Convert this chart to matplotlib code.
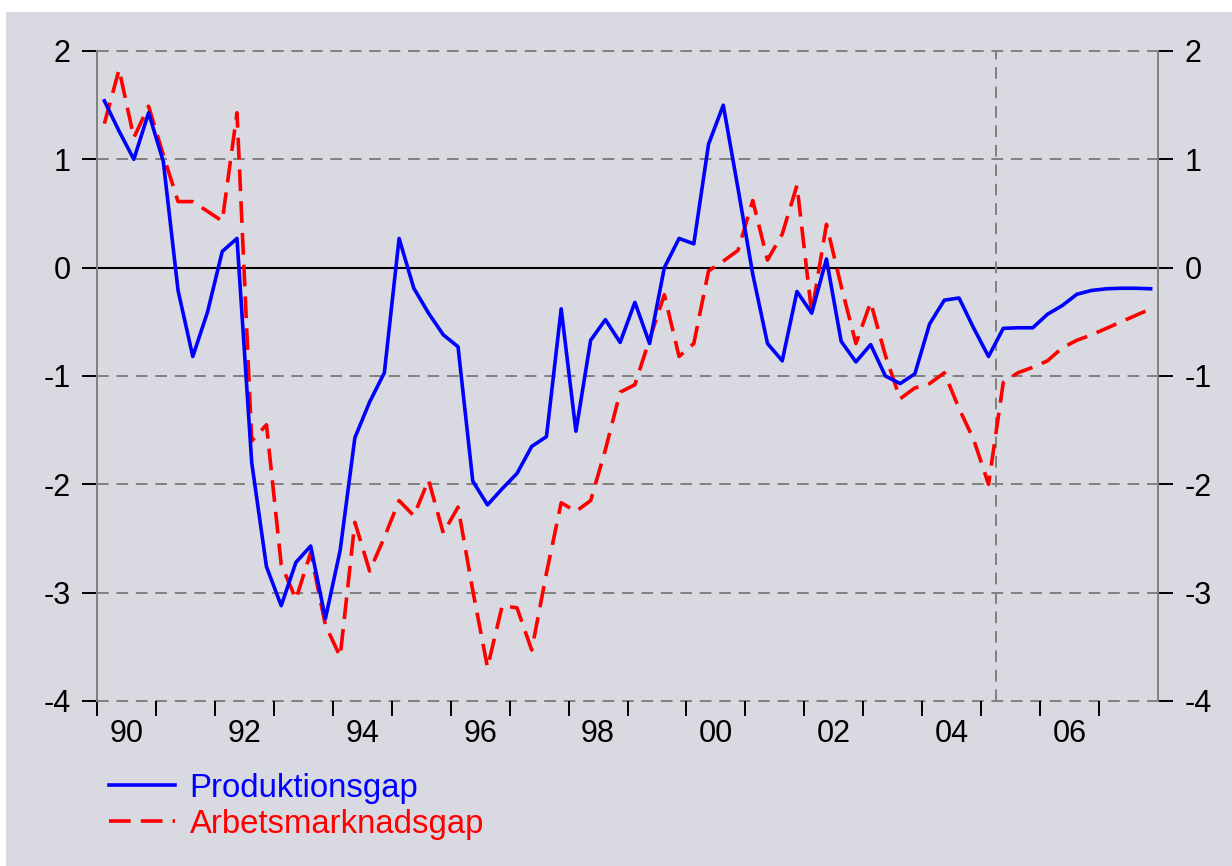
import numpy as np
import matplotlib.pyplot as plt
from matplotlib.patches import Rectangle

plt.rcParams['font.family'] = ['Liberation Sans', 'DejaVu Sans']

# quarterly data 1990Q1 - 2007Q4
start_year = 1990
produktionsgap = [
    1.54, 1.26, 1.00, 1.43, 0.98, -0.21, -0.82, -0.41, 0.15, 0.27,
    -1.80, -2.76, -3.12, -2.72, -2.57, -3.24, -2.61, -1.57, -1.24, -0.97,
    0.27, -0.19, -0.42, -0.62, -0.73, -1.97, -2.19, -2.04, -1.90, -1.65,
    -1.56, -0.38, -1.51, -0.67, -0.48, -0.69, -0.32, -0.70, 0.00, 0.27,
    0.22, 1.14, 1.50, 0.73, -0.06, -0.70, -0.86, -0.22, -0.42, 0.08,
    -0.68, -0.87, -0.71, -1.00, -1.07, -0.98, -0.52, -0.30, -0.28, -0.56,
    -0.82, -0.56, -0.555, -0.555, -0.43, -0.35, -0.245, -0.21, -0.195, -0.19,
    -0.19, -0.195,
]
arbetsmarknadsgap = [
    1.33, 1.83, 1.20, 1.49, 1.04, 0.61, 0.61, 0.52, 0.43, 1.43,
    -1.60, -1.45, -2.74, -3.06, -2.63, -3.30, -3.59, -2.35, -2.80, -2.49,
    -2.15, -2.29, -1.96, -2.45, -2.21, -2.98, -3.69, -3.12, -3.14, -3.53,
    -2.82, -2.17, -2.25, -2.15, -1.68, -1.15, -1.08, -0.66, -0.25, -0.82,
    -0.70, -0.03, 0.06, 0.16, 0.62, 0.07, 0.31, 0.76, -0.42, 0.40,
    -0.17, -0.70, -0.32, -0.81, -1.21, -1.11, -1.07, -0.97, -1.30, -1.59,
    -2.00, -1.06, -0.97, -0.92, -0.86, -0.74, -0.67, -0.62, -0.56, -0.50,
    -0.44, -0.38,
]
year_labels = ["90", "92", "94", "96", "98", "00", "02", "04", "06"]
forecast_start = 2005.25

t = start_year + (np.arange(len(produktionsgap)) + 0.5) / 4

bg = '#D9D9E1'
fig = plt.figure(figsize=(12.32, 8.66), dpi=100)
fig.patch.set_facecolor('white')
fig.add_artist(Rectangle((6 / 1232, 0), 1, 1 - 12 / 866, transform=fig.transFigure,
                         facecolor=bg, edgecolor='none', zorder=-10))

ax = fig.add_axes([97 / 1232, 1 - 701 / 866, (1158 - 97) / 1232, (701 - 51) / 866])
ax.set_facecolor(bg)

for v in [2, 1, -1, -2, -3, -4]:
    ax.axhline(v, color='#808080', lw=1.4, ls=(0, (6, 4)), zorder=1, clip_on=False)
ax.axhline(0, color='black', lw=1.5, zorder=1)
ax.plot([forecast_start, forecast_start], [-4, 2], color='#808080', lw=1.4,
        ls=(0, (6, 4)), zorder=1)

ax.plot(t, produktionsgap, color='#0000FF', lw=2.6, zorder=3, label='Produktionsgap')
ax.plot(t, arbetsmarknadsgap, color='#FF0000', lw=2.6, ls=(0, (6, 2.8)), zorder=2,
        label='Arbetsmarknadsgap')

ax.set_xlim(1990, 2008)
ax.set_ylim(-4, 2)

for s in ['top', 'bottom']:
    ax.spines[s].set_visible(False)
for s in ['left', 'right']:
    ax.spines[s].set_color('#808080')
    ax.spines[s].set_linewidth(1.4)

ax.set_yticks([2, 1, 0, -1, -2, -3, -4])
ax.set_yticklabels(['2', '1', '0', '-1', '-2', '-3', '-4'])
ax.tick_params(axis='y', which='both', left=True, right=True, labelleft=True,
               labelright=True, direction='out', length=11, width=1.4,
               color='black', labelsize=22, pad=8)

ax.set_xticks(np.arange(1990, 2008))
ax.set_xticklabels([])
ax.set_xticks(np.arange(1990.5, 2007, 2), minor=True)
ax.set_xticklabels(year_labels, minor=True)
ax.tick_params(axis='x', which='major', direction='out', length=11, width=1.4, color='black')
ax.tick_params(axis='x', which='minor', length=0, labelsize=22, pad=13)

leg = ax.legend(loc='upper left', bbox_to_anchor=(109 / 1232, 1 - 773 / 866),
                bbox_transform=fig.transFigure, frameon=False, fontsize=23.7,
                handlelength=2.0, handletextpad=0.45, labelspacing=0.15,
                borderpad=0, borderaxespad=0, labelcolor='linecolor')

fig.savefig('out.png', dpi=100, facecolor=fig.get_facecolor())
